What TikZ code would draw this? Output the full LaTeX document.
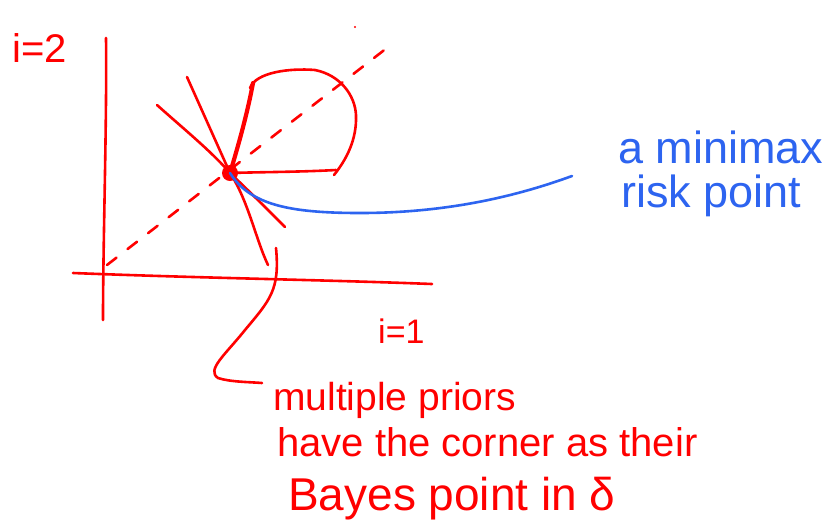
\documentclass[tikz,border=0pt]{standalone}
\usepackage{fontspec}
\setmainfont{Liberation Sans}
\definecolor{pen}{RGB}{255,0,0}
\definecolor{bluepen}{RGB}{45,100,240}
\begin{document}
\begin{tikzpicture}[x=1pt,y=-1pt,
  redline/.style={pen, line width=2.6pt, line cap=round, line join=round},
  blueline/.style={bluepen, line width=2.6pt, line cap=round, line join=round},
  redtext/.style={text=pen, inner sep=0pt, anchor=base west},
  bluetext/.style={text=bluepen, inner sep=0pt, anchor=base west, font=\fontsize{45}{48}\selectfont}]
\useasboundingbox (0,0) rectangle (834,531);
\fill[white] (0,0) rectangle (834,531);
\coordinate (corner) at (230,173);
% axes
\draw[redline] (106,38) .. controls (107,120) and (103,240) .. (103,320);
\draw[redline] (73,273) .. controls (200,278) and (330,280) .. (432,284);
% dashed diagonal
\draw[redline, dash pattern=on 12pt off 14pt] (107,265) -- (392,44);
\fill[pen] (355,27) circle (1.2);
% lines through corner
\draw[redline] (157,105) .. controls (185,130) and (212,152) .. (corner)
  .. controls (250,192) and (266,208) .. (285,227);
\draw[redline] (187,77) -- (corner) .. controls (248,200) and (256,240) .. (268,265);
% support loop
\draw[redline, line width=4.2pt] (corner) .. controls (240,140) and (248,110) .. (253,83);
\draw[redline] (250,88) .. controls (256,72) and (290,68) .. (315,70)
  .. controls (340,75) and (355,95) .. (356,115)
  .. controls (357,140) and (346,160) .. (334,175);
\draw[redline] (336,170) .. controls (300,172) and (262,172) .. (corner);
\fill[pen] (corner) circle (8);
% blue curve to label
\node[bluetext] (b1) at (618,163) {a minimax};
\node[bluetext] (b2) at (621,207) {risk point};
\coordinate (bend) at (572,176);
\draw[blueline] (corner) .. controls (250,205) and (290,213) .. (360,213)
  .. controls (450,213) and (520,195) .. (bend);
% axis labels
\node[redtext, font=\fontsize{40}{44}\selectfont] (l2) at (12,62) {i=2};
\node[redtext, font=\fontsize{34}{38}\selectfont] (l1) at (378,343) {i=1};
% caption and connector
\node[redtext, font=\fontsize{39}{42}\selectfont] (t1) at (273,410) {multiple priors};
\node[redtext, font=\fontsize{40}{44}\selectfont] (t2) at (277,456) {have the corner as their};
\node[redtext, font=\fontsize{46}{50}\selectfont] (t3) at (288,510) {Bayes point in δ};
\coordinate (ctop) at (276,248);
\coordinate (cend) at (262,383);
\draw[redline] (ctop) .. controls (280,290) and (270,300) .. (245,330)
  .. controls (225,355) and (206,370) .. (218,378)
  .. controls (230,382) and (250,382) .. (cend);
\end{tikzpicture}
\end{document}
